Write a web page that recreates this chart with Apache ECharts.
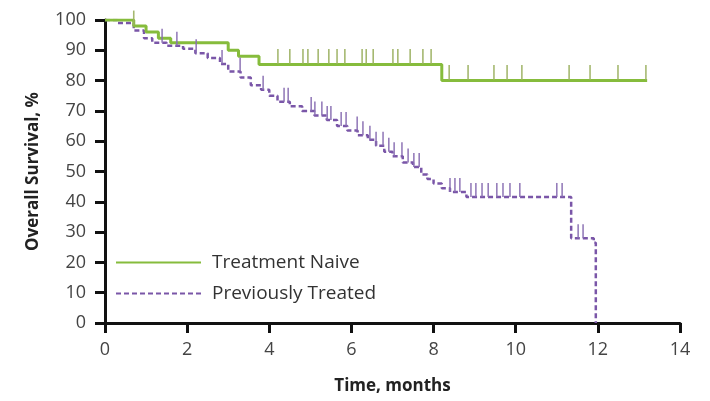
<!DOCTYPE html>
<html>
<head>
<meta charset="utf-8">
<script src="https://cdn.jsdelivr.net/npm/echarts@6/dist/echarts.min.js"></script>
<style>
html,body{margin:0;padding:0;background:#fff;}
#chart{width:710px;height:401px;}
</style>
</head>
<body>
<div id="chart"></div>
<script>
// Treatment Naive: step times (months) and survival (%)
var naiveTimes  = [0, 0.7, 1.0, 1.3, 1.6, 3.0, 3.25, 3.75, 8.2, 13.2];
var naiveValues = [100, 98, 96, 94, 92.5, 90, 88, 85.3, 80, 80];
var naiveCensor = [0.7, 4.21, 4.50, 4.82, 4.94, 5.19, 5.45, 5.65, 5.84, 6.26, 6.36, 6.53, 7.01, 7.13, 7.43, 7.74, 7.94,
                   8.38, 8.84, 9.47, 9.79, 10.15, 11.30, 11.81, 12.49, 13.17];

// Previously Treated
var prevTimes  = [0, 0.3, 0.7, 0.95, 1.15, 1.5, 1.9, 2.2, 2.5, 2.8, 3.0, 3.3, 3.55, 3.8, 4.0, 4.2, 4.5, 4.8, 5.1, 5.4,
                  5.65, 5.9, 6.15, 6.4, 6.6, 6.8, 7.0, 7.25, 7.5, 7.7, 7.85, 8.0, 8.2, 8.4, 8.8, 11.35, 11.9, 11.95];
var prevValues = [100, 99, 96.5, 94, 92.5, 91.5, 90.5, 89, 87.5, 85.5, 83, 81, 78.5, 77, 75, 73, 71.5, 70, 68.5, 67,
                  65, 63.5, 62, 60.5, 58.5, 56.5, 55, 53, 51.5, 49, 47.5, 46, 44.5, 43.2, 41.6, 28, 26.5, 0];
var prevCensor = [1.39, 1.75, 2.22, 2.85, 3.29, 3.85, 4.36, 4.46, 5.02, 5.11, 5.28, 5.41, 5.50, 5.75, 5.87, 6.14, 6.28,
                  6.45, 6.60, 6.77, 6.91, 7.04, 7.23, 7.38, 7.52, 7.65, 8.40, 8.52, 8.64, 8.91, 9.03, 9.18, 9.33, 9.54,
                  9.69, 9.86, 10.10, 11.0, 11.13, 11.52, 11.64];

var xTicks = [0, 2, 4, 6, 8, 10, 12, 14];
var yTicks = [0, 10, 20, 30, 40, 50, 60, 70, 80, 90, 100];

function pairs(ts, vs) { return ts.map(function (t, i) { return [t, vs[i]]; }); }
function survAt(ts, vs, t) {
  var v = vs[0];
  for (var i = 0; i < ts.length; i++) { if (ts[i] <= t) v = vs[i]; }
  return v;
}
function censorPts(c, ts, vs) { return c.map(function (t) { return [t, survAt(ts, vs, t)]; }); }

var green = '#86bc3c';
var purple = '#7a56a8';
var font = 'Open Sans';

var chart = echarts.init(document.getElementById('chart'), null, {renderer: 'canvas'});
chart.setOption({
  animation: false,
  backgroundColor: '#fff',
  grid: {left: 105, right: 30, top: 20, bottom: 78, containLabel: false},
  xAxis: {
    type: 'value', min: 0, max: 14, interval: 2,
    name: 'Time, months', nameLocation: 'middle', nameGap: 55,
    nameTextStyle: {fontFamily: font, fontWeight: 'bold', fontSize: 17, color: '#222'},
    axisLine: {lineStyle: {color: '#111', width: 3}},
    axisTick: {length: 10, lineStyle: {color: '#111', width: 3}},
    axisLabel: {fontFamily: font, fontSize: 18, color: '#444', margin: 18,
      formatter: function (v) { return xTicks.indexOf(v) >= 0 ? String(v) : ''; }},
    splitLine: {show: false}
  },
  yAxis: {
    type: 'value', min: 0, max: 100, interval: 10,
    name: 'Overall Survival, %', nameLocation: 'middle', nameGap: 63, nameRotate: 90,
    nameTextStyle: {fontFamily: font, fontWeight: 'bold', fontSize: 17, color: '#222'},
    axisLine: {show: true, lineStyle: {color: '#111', width: 3}},
    axisTick: {show: true, length: 10, lineStyle: {color: '#111', width: 3}},
    axisLabel: {fontFamily: font, fontSize: 18, color: '#444', margin: 19,
      formatter: function (v) { return yTicks.indexOf(v) >= 0 ? String(v) : ''; }},
    splitLine: {show: false}
  },
  legend: {
    data: [
      {name: 'Treatment Naive', itemStyle: {opacity: 0}},
      {name: 'Previously Treated', itemStyle: {opacity: 0}}
    ],
    orient: 'vertical', left: 110, top: 248, itemWidth: 85, itemHeight: 14, itemGap: 12,
    textStyle: {fontFamily: font, fontSize: 19, color: '#333', padding: [0, 0, 0, 6]}
  },
  series: [
    {
      name: 'Treatment Naive', type: 'line', step: 'end', symbol: 'none',
      data: pairs(naiveTimes, naiveValues),
      lineStyle: {color: green, width: 3}, itemStyle: {color: green}, z: 3
    },
    {
      name: 'Previously Treated', type: 'line', step: 'end', symbol: 'none',
      data: pairs(prevTimes, prevValues),
      lineStyle: {color: purple, width: 2.5, type: [5, 3]}, itemStyle: {color: purple}, z: 2
    },
    {
      name: 'naiveCensor', type: 'scatter', symbol: 'rect', symbolSize: [1.6, 15], symbolOffset: [0, -8],
      data: censorPts(naiveCensor, naiveTimes, naiveValues),
      itemStyle: {color: '#9bb060', opacity: 0.9}, silent: true, z: 4
    },
    {
      name: 'prevCensor', type: 'scatter', symbol: 'rect', symbolSize: [1.6, 14], symbolOffset: [0, -7],
      data: censorPts(prevCensor, prevTimes, prevValues),
      itemStyle: {color: '#8a6fb3', opacity: 0.9}, silent: true, z: 4
    }
  ]
});
</script>
</body>
</html>
